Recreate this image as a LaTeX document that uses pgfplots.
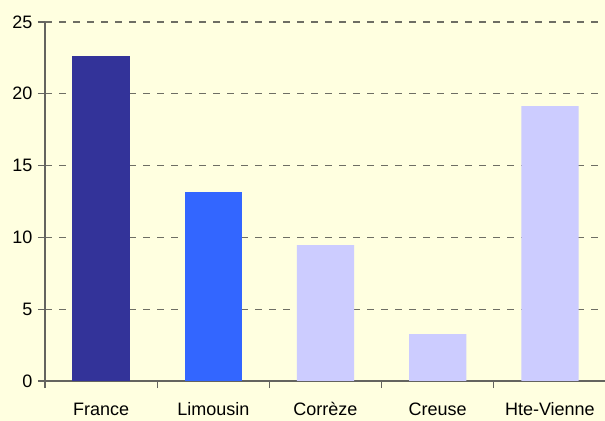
\documentclass[border=0pt]{standalone}
\usepackage{pgfplots}
\pgfplotsset{compat=1.18}
\usepackage{fontspec}
\setmainfont{Liberation Sans}
\definecolor{bgcol}{RGB}{255,255,224}
\definecolor{c1}{RGB}{51,51,153}
\definecolor{c2}{RGB}{51,102,255}
\definecolor{c3}{RGB}{204,204,255}
\definecolor{axcol}{RGB}{100,100,95}
\definecolor{gridcol}{RGB}{110,110,100}
\begin{document}
\begin{tikzpicture}
\fill[bgcol] (0,0) rectangle (605bp,421bp);
\useasboundingbox (0,0) rectangle (605bp,421bp);
\begin{axis}[
  at={(45bp,40bp)}, anchor=south west,
  width=561bp, height=359bp, scale only axis,
  xmin=-0.5, xmax=4.5, ymin=0, ymax=25,
  axis x line=bottom, axis y line=left,
  axis line style={draw=axcol, line width=1.2bp, -},
  xtick={0,1,2,3,4},
  xticklabels={France,Limousin,Corrèze,Creuse,Hte-Vienne},
  minor xtick={-0.5,0.5,1.5,2.5,3.5,4.5},
  major x tick style={draw=none},
  minor x tick style={draw=axcol, line width=1.2bp},
  ytick={0,5,10,15,20,25},
  y tick style={draw=axcol, line width=1.2bp},
  tick align=outside,
  major tick length=7bp, minor tick length=7bp,
  ymajorgrids,
  grid style={draw=gridcol, line width=1.3bp, dash pattern=on 7bp off 7bp},
  /pgf/number format/assume math mode=true,
  tick label style={font=\fontsize{18bp}{21bp}\selectfont, text=black},
  xticklabel style={anchor=base, inner sep=0pt, text depth=0pt, yshift=-27bp},
  yticklabel style={xshift=-2bp},
  ybar, bar width=0.51, bar shift=0pt,
]
\addplot[fill=c1, draw=none] coordinates {(0,22.63)};
\addplot[fill=c2, draw=none] coordinates {(1,13.16)};
\addplot[fill=c3, draw=none] coordinates {(2,9.47) (3,3.27) (4,19.15)};
\end{axis}
\end{tikzpicture}
\end{document}
